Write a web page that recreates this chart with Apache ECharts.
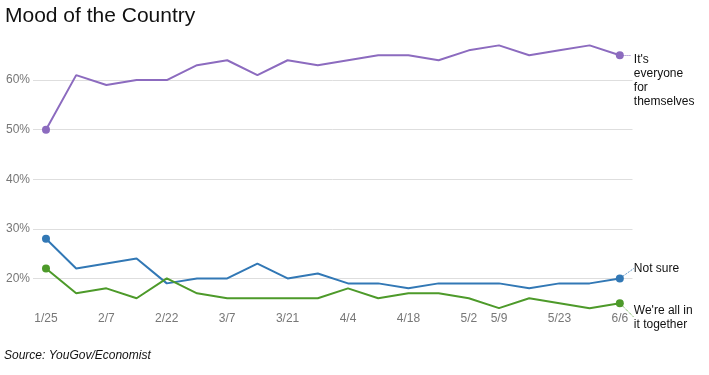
<!DOCTYPE html>
<html><head><meta charset="utf-8">
<script src="https://cdn.jsdelivr.net/npm/echarts@6/dist/echarts.min.js"></script>
<style>html,body{margin:0;padding:0;background:#fff;}#c{width:709px;height:375px;}</style>
</head><body><div id="c"></div>
<script>
const dates = ['1/25','2/1','2/7','2/15','2/22','3/1','3/7','3/14','3/21','3/28','4/4','4/11','4/18','4/25','5/2','5/9','5/16','5/23','5/30','6/6'];
const labelIdx = [0,2,4,6,8,10,12,14,15,17,19];
const everyone = [50,61,59,60,60,63,64,61,64,63,64,65,65,64,66,67,65,66,67,65];
const notSure  = [28,22,23,24,19,20,20,23,20,21,19,19,18,19,19,19,18,19,19,20];
const together = [22,17,18,16,20,17,16,16,16,16,18,16,17,17,16,14,16,15,14,15];

const FONT = '"Liberation Sans", Arial, Helvetica, sans-serif';

function mk(name, vals, color, labelText, dy, guide) {
  const n = vals.length;
  const s = {
    type: 'line', name: name,
    data: vals.map((v, i) => {
      const d = { value: [i, v] };
      if (i === 0 || i === n - 1) { d.symbol = 'circle'; d.symbolSize = 8; }
      else { d.symbol = 'none'; }
      if (i === n - 1) {
        d.label = { show: true, position: 'right', distance: 10, formatter: labelText,
          color: '#111', fontSize: 12, lineHeight: 14, fontFamily: FONT, align: 'left' };
      }
      return d;
    }),
    showSymbol: true,
    lineStyle: { color: color, width: 2 },
    itemStyle: { color: color },
    label: { show: false },
    labelLayout: function (p) { return p.dataIndex === n - 1 ? { dy: dy } : {}; },
    labelLine: { show: guide === 'labelLine', lineStyle: { color: color, type: 'dotted', width: 1 } },
    emphasis: { disabled: true },
    z: 3
  };
  if (guide === 'markLine') {
    s.markLine = {
      silent: true, symbol: 'none', animation: false,
      label: { show: false },
      lineStyle: { color: color, type: 'dotted', width: 1 },
      emphasis: { disabled: true },
      data: [[ { coord: [n - 1 + 0.12, vals[n - 1]] }, { coord: [n - 1 + 0.36, vals[n - 1]] } ]]
    };
  }
  return s;
}

const chart = echarts.init(document.getElementById('c'), null, { renderer: 'canvas' });
chart.setOption({
  animation: false,
  title: [
    { text: 'Mood of the Country', left: 5, top: 6, padding: 0,
      textStyle: { fontSize: 21, fontWeight: 'normal', color: '#111', fontFamily: FONT } },
    { text: 'Source: YouGov/Economist', left: 4, top: 350, padding: 0,
      textStyle: { fontSize: 12, fontWeight: 'normal', fontStyle: 'italic', color: '#111', fontFamily: FONT } }
  ],
  grid: { left: 33, right: 76.5, top: 30.5, bottom: 47, containLabel: false },
  xAxis: {
    type: 'value', min: -0.43, max: 19.42,
    axisLine: { show: false }, axisTick: { show: false }, splitLine: { show: false },
    axisLabel: { customValues: labelIdx, formatter: v => dates[v] || '', margin: -15,
      color: '#777', fontSize: 12, fontFamily: FONT }
  },
  yAxis: {
    type: 'value', min: 10, max: 70, interval: 10,
    axisLine: { show: false }, axisTick: { show: false },
    axisLabel: { formatter: v => (v === 10 || v === 70) ? '' : v + '%', margin: 3,
      color: '#777', fontSize: 12, fontFamily: FONT },
    splitLine: { show: true, lineStyle: { color: ['rgba(0,0,0,0)','#dedede','#dedede','#dedede','#dedede','#dedede','rgba(0,0,0,0)'], width: 1 } }
  },
  series: [
    mk("It's everyone for themselves", everyone, '#8c6bbf', "It's\neveryone\nfor\nthemselves", 25, 'markLine'),
    mk('Not sure', notSure, '#3278b5', 'Not sure', -10, 'labelLine'),
    mk("We're all in it together", together, '#4d9a2a', "We're all in\nit together", 14, 'labelLine')
  ]
});
</script></body></html>
